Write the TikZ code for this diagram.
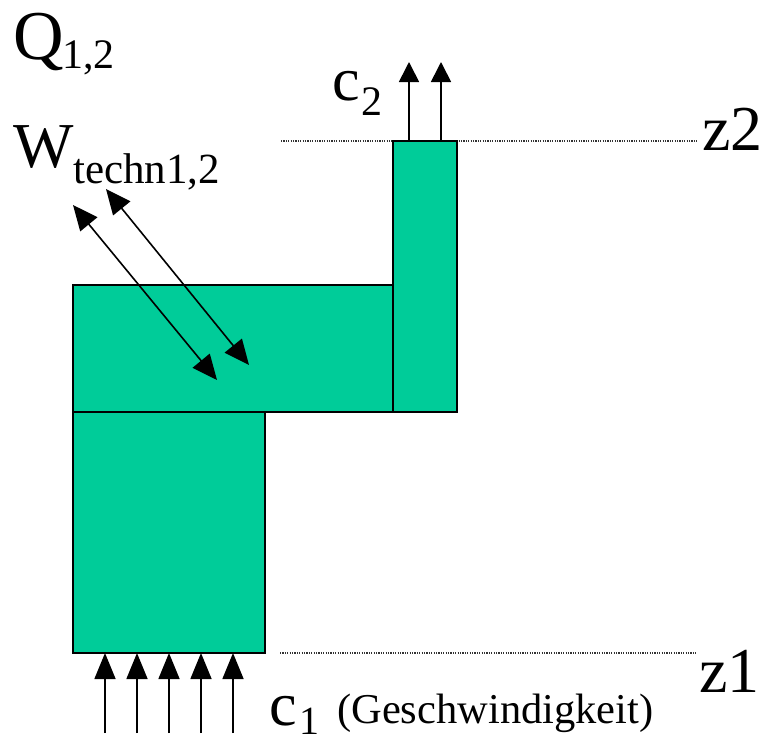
\documentclass[tikz,border=0pt]{standalone}
\usepackage{fontspec}
\setmainfont{Liberation Serif}
\usetikzlibrary{arrows.meta}
\definecolor{pipegreen}{HTML}{00CC99}
\newcommand{\fs}[1]{\fontsize{#1}{#1}\selectfont}
\tikzset{
  x=1pt,y=-1pt,
  pipe/.style={draw=black,line width=2.4pt,fill=pipegreen},
  level/.style={draw=black!80,line width=1.1pt,dash pattern=on 1.2pt off 1.2pt},
  flowA/.style={draw=black,line width=1.7pt,-{Triangle[length=20pt,width=20pt]}},
  flowB/.style={draw=black,line width=1.6pt,-{Triangle[length=26pt,width=21pt]}},
  work/.style={draw=black,line width=1.6pt,{Triangle[length=25pt,width=22pt]}-{Triangle[length=25pt,width=22pt]}},
  lbl/.style={inner sep=0pt,anchor=base west,text=black},
}
\begin{document}
\begin{tikzpicture}
\useasboundingbox (0,0) rectangle (762,737);
% levels
\coordinate (l2a) at (281,141); \coordinate (l2b) at (697,141);
\coordinate (l1a) at (280,653); \coordinate (l1b) at (697,653);
\draw[level] (l2a) -- (l2b);
\draw[level] (l1a) -- (l1b);
% body
\draw[pipe] (73,412) rectangle (265,653);
\draw[pipe] (73,285) rectangle (393,412);
\draw[pipe] (393,141) rectangle (457,412);
% outlet arrows
\foreach \n/\x in {a/409,b/441}{
  \coordinate (o\n0) at (\x,141); \coordinate (o\n1) at (\x,62);
  \draw[flowA] (o\n0) -- (o\n1);
}
% inlet arrows
\foreach \n/\x in {a/105,b/137,c/169,d/201,e/233}{
  \coordinate (i\n0) at (\x,733); \coordinate (i\n1) at (\x,653);
  \draw[flowB] (i\n0) -- (i\n1);
}
% work arrows
\coordinate (w1a) at (73,205); \coordinate (w1b) at (217,380);
\coordinate (w2a) at (106,189); \coordinate (w2b) at (249,365);
\draw[work] (w1a) -- (w1b);
\draw[work] (w2a) -- (w2b);
% labels
\node[lbl] (q) at (13,59) {\fs{70}Q};
\node[lbl] (qs) at (62,68) {\fs{42}1,2};
\node[lbl] (w) at (13,167) {\fs{64}W};
\node[lbl] (ws) at (73,183) {\fs{43}techn1,2};
\node[lbl] (c2) at (332,100) {\fs{62}c};
\node[lbl] (c2s) at (361,115) {\fs{42}2};
\node[lbl] (z2) at (702,150) {\fs{64}z2};
\node[lbl] (z1) at (699,692) {\fs{64}z1};
\node[lbl] (c1) at (269,725) {\fs{62}c};
\node[lbl] (c1s) at (299,734) {\fs{40}1};
\node[lbl] (gw) at (337,723) {\fs{42.5}(Geschwindigkeit)};
\end{tikzpicture}
\end{document}
